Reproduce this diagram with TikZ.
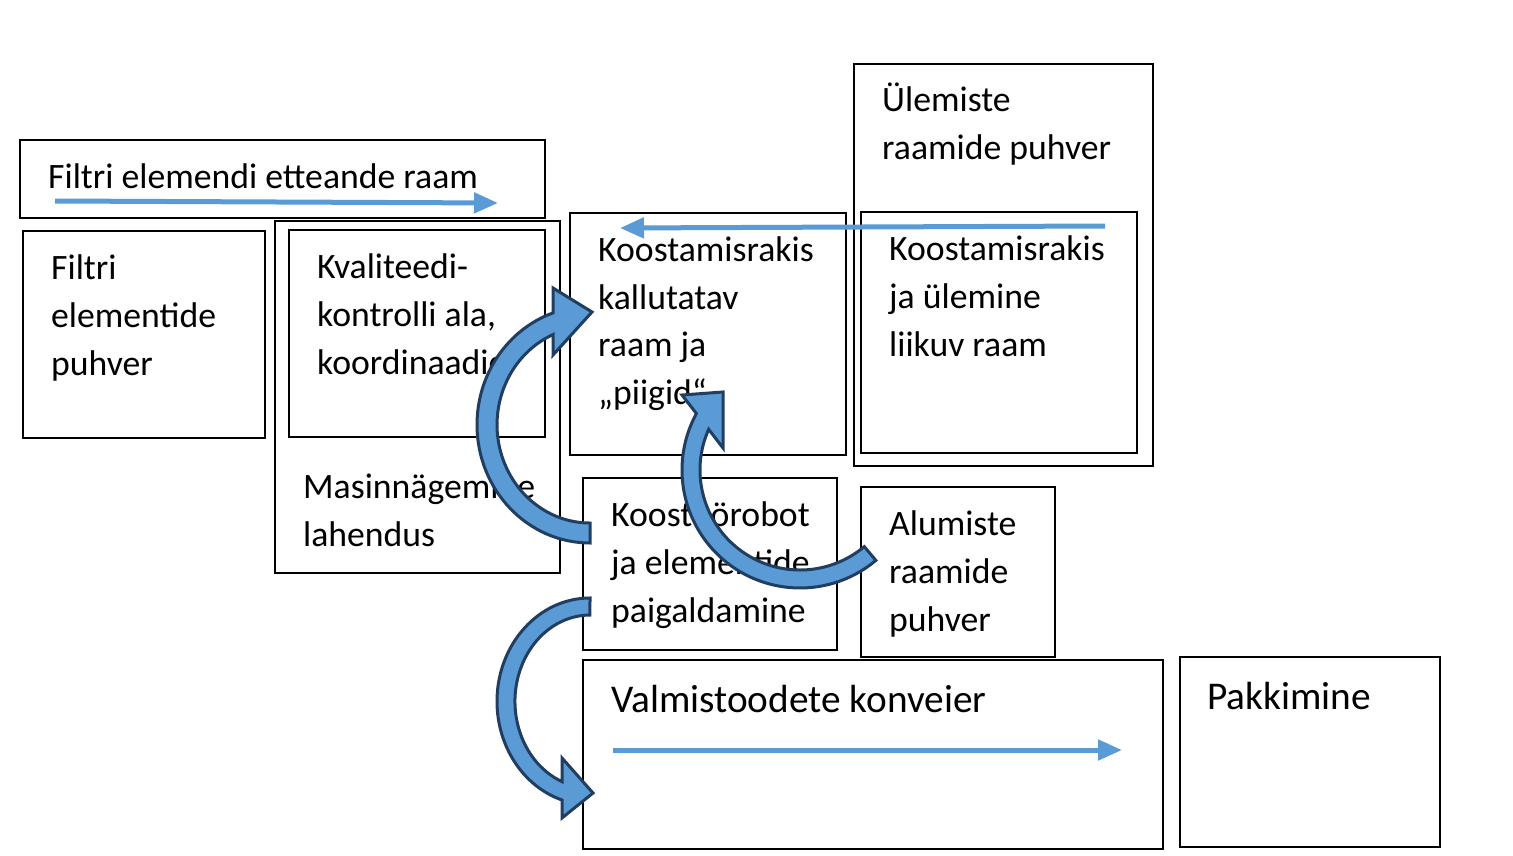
\documentclass[tikz,border=0pt]{standalone}
\usepackage{fontspec}
\setmainfont{Carlito}
\usetikzlibrary{arrows.meta}
\definecolor{arrowblue}{RGB}{91,155,213}
\definecolor{arrowedge}{RGB}{33,62,96}
\begin{document}
\begin{tikzpicture}[x=1pt,y=-1pt,
  box/.style={draw=black,line width=1.6pt,anchor=north west,inner sep=0pt,outer sep=0pt},
  lbl/.style={anchor=base west,inner sep=0pt,align=left,font=\fontsize{35.7}{47.6}\selectfont},
  big/.style={anchor=base west,inner sep=0pt,font=\fontsize{39.3}{46}\selectfont},
  flow/.style={draw=arrowblue,line width=5pt,-{Triangle[length=24pt,width=20pt]}},
  blockarrow/.style={fill=arrowblue,draw=arrowedge,line width=3pt,line join=miter}]
\useasboundingbox (0,0) rectangle (1513,856);
% boxes
\node[box,minimum width=525,minimum height=78] (feed) at (20,140) {};
\node[box,minimum width=242,minimum height=207] (buf) at (23,231) {};
\node[box,minimum width=285,minimum height=352] (mv) at (275,221) {};
\node[box,minimum width=256,minimum height=207] (qc) at (289,230) {};
\node[box,minimum width=276,minimum height=242] (tilt) at (570,213) {};
\node[box,minimum width=299,minimum height=402] (upper) at (854,64) {};
\node[box,minimum width=276,minimum height=241] (move) at (861,212) {};
\node[box,minimum width=254,minimum height=172] (robot) at (583,478) {};
\node[box,minimum width=194,minimum height=170] (lower) at (861,487) {};
\node[box,minimum width=580,minimum height=189] (conv) at (583,660) {};
\node[box,minimum width=260,minimum height=190] (pack) at (1180,657) {};
% labels (anchor = baseline of the last line)
\node[lbl] (tfeed) at (48,188) {Filtri elemendi etteande raam};
\node[lbl] (tbuf) at (51,375) {Filtri\\elementide\\puhver};
\node[lbl] (tqc) at (317,374) {Kvaliteedi-\\kontrolli ala,\\koordinaadid};
\node[lbl] (tmv) at (303,546) {Masinnägemine\\lahendus};
\node[lbl] (ttilt) at (598,404.5) {Koostamisrakis\\kallutatav\\raam ja\\„piigid“};
\node[lbl] (tupper) at (882,159.5) {Ülemiste\\raamide puhver};
\node[lbl] (tmove) at (889,356) {Koostamisrakis\\ja ülemine\\liikuv raam};
\node[lbl] (trobot) at (611,622) {Koostöörobot\\ja elementide\\paigaldamine};
\node[lbl] (tlower) at (889,631) {Alumiste\\raamide\\puhver};
\node[big] (tconv) at (611,712) {Valmistoodete konveier};
\node[big] (tpack) at (1207,709) {Pakkimine};
% straight flow arrows
\coordinate (f1) at (55,201);
\coordinate (f2) at (498,203);
\coordinate (m1) at (1105,226);
\coordinate (m2) at (620,228);
\coordinate (c1) at (613,750);
\coordinate (c2) at (1122,750);
\draw[flow] (f1) -- (f2);
\draw[flow] (m1) -- (m2);
\draw[flow] (c1) -- (c2);
% curved block arrows
\draw[blockarrow] (590,543) arc[start angle=90,end angle=250.9,x radius=113,y radius=118.3]
  -- (553,288) -- (592,312) -- (553,355) -- (553.1,334.5)
  arc[start angle=246.6,end angle=90,x radius=93,y radius=98.3] -- cycle;
\draw[blockarrow] (590,598) arc[start angle=270,end angle=107.5,x radius=93,y radius=103.4]
  -- (562,818) -- (593,793) -- (562,758) -- (562,781.6)
  arc[start angle=111.9,end angle=270,x radius=75,y radius=86.4] -- cycle;
\draw[blockarrow] (875.85,560.39) arc[start angle=50,end angle=208.6,radius=118]
  -- (682,395) -- (723,392) -- (723,448) -- (708.65,429.33)
  arc[start angle=204,end angle=50,radius=100] -- cycle;
\end{tikzpicture}
\end{document}
